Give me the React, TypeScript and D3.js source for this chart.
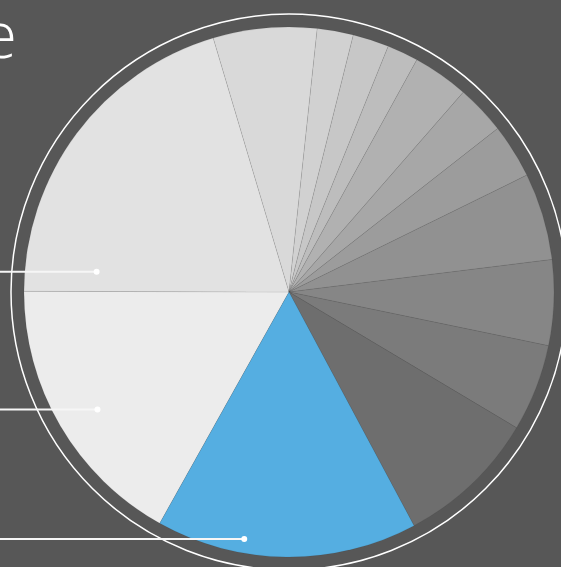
import React, { useMemo } from "react";
import * as d3 from "d3";

const categories = ["L", "M", "N", "A", "B", "C", "D", "E", "F", "G", "H", "I", "J", "K"];
const values = [16.9, 20.3, 6.3, 2.2, 2.2, 1.9, 3.4, 3.0, 3.3, 5.3, 5.2, 5.3, 8.6, 15.9];
const colors = [
  "#ececec", "#e2e2e2", "#d9d9d9", "#d1d1d1", "#c7c7c7", "#bdbdbd", "#b1b1b1",
  "#a7a7a7", "#9c9c9c", "#919191", "#868686", "#7b7b7b", "#6e6e6e", "#55aee1",
];
// callouts: slice index, position within slice (fraction of angle), radius fraction
const calloutSlices = [1, 0, 13];
const calloutAngleFrac = [0.08, 0.48, 0.67];
const calloutRadiusFrac = [0.73, 0.848, 0.947];
const titleText = "e";

const W = 561;
const H = 567;
const CX = 289;
const CY = 292;
const R = 265;
const RING = 278;
const START_DEG = 209.2;

export default function App() {
  const arcs = useMemo(() => {
    const start = (START_DEG * Math.PI) / 180;
    return d3
      .pie<number>()
      .sort(null)
      .value((d) => d)
      .startAngle(start)
      .endAngle(start + 2 * Math.PI)(values);
  }, []);
  const arcGen = d3.arc<d3.PieArcDatum<number>>().innerRadius(0).outerRadius(R);

  const callouts = calloutSlices.map((si, i) => {
    const a = arcs[si];
    const ang = a.startAngle + (a.endAngle - a.startAngle) * calloutAngleFrac[i];
    const r = R * calloutRadiusFrac[i];
    return { x: CX + r * Math.sin(ang), y: CY - r * Math.cos(ang) };
  });

  return (
    <div style={{ position: "fixed", left: 0, top: 0, width: W, height: H }}>
      <svg width={W} height={H} style={{ display: "block", background: "#575757" }}>
        <rect width={W} height={H} fill="#575757" />
        <text
          x={17}
          y={58}
          textAnchor="end"
          fill="#ffffff"
          fontFamily="'Open Sans', sans-serif"
          fontWeight={300}
          fontSize={64}
        >
          {titleText}
        </text>
        <g transform={`translate(${CX},${CY})`}>
          {arcs.map((a, i) => (
            <path
              key={categories[i]}
              d={arcGen(a) || ""}
              fill={colors[i]}
              stroke="rgba(0,0,0,0.09)"
              strokeWidth={0.7}
            />
          ))}
          <circle r={RING} fill="none" stroke="#ffffff" strokeWidth={1.5} />
        </g>
        {callouts.map((c, i) => (
          <g key={i}>
            <line x1={0} x2={c.x} y1={c.y} y2={c.y} stroke="#f6f6f6" strokeWidth={2} />
            <circle cx={c.x} cy={c.y} r={3} fill="#ffffff" />
          </g>
        ))}
      </svg>
    </div>
  );
}
